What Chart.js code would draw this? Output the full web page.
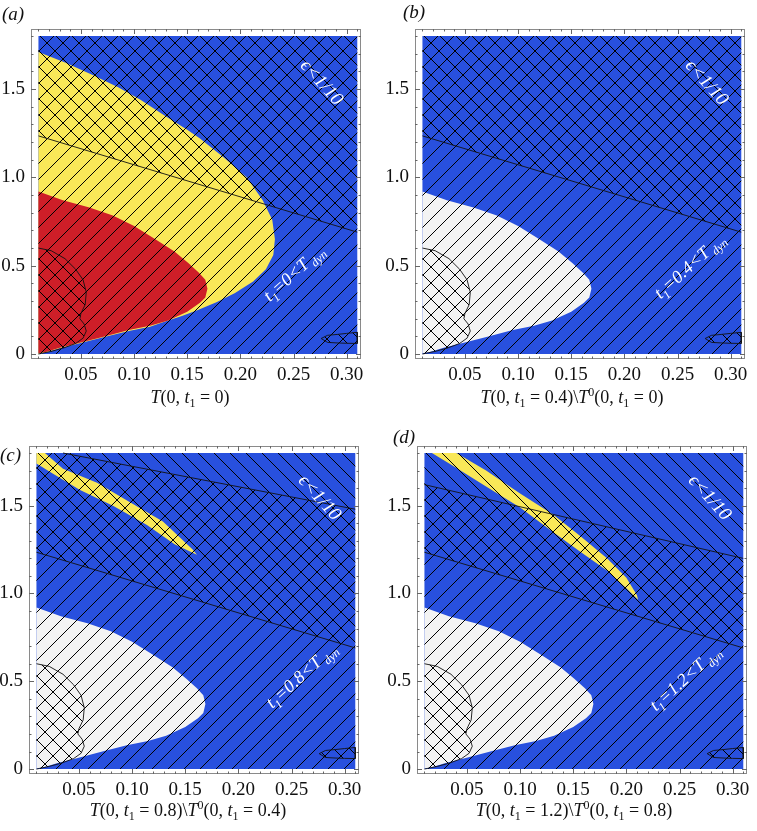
<!DOCTYPE html>
<html>
<head>
<meta charset="utf-8">
<script src="https://cdn.jsdelivr.net/npm/chart.js@4.4.1/dist/chart.umd.min.js"></script>
<style>
  body { margin: 0; background: #fff; width: 757px; height: 831px; position: relative; overflow: hidden; font-family: "Liberation Serif", serif; color: #111; }
  canvas { position: absolute; }
  .tag { position: absolute; font-style: italic; font-size: 19px; line-height: 22px; }
  .xt { position: absolute; width: 320px; text-align: center; white-space: nowrap; font-size: 18px; line-height: 22px; }
  .xt sub { font-size: 12px; vertical-align: -4px; line-height: 0; }
  .xt sup { font-size: 12px; vertical-align: 7px; line-height: 0; }
</style>
</head>
<body>
<canvas id="pa"></canvas>
<canvas id="pb"></canvas>
<canvas id="pc"></canvas>
<canvas id="pd"></canvas>
<script>
// axis ticks
const X_TICKS = [0.05, 0.10, 0.15, 0.20, 0.25, 0.30];
const Y_TICKS = [0, 0.5, 1.0, 1.5];

// plotted domain
const DOMAIN_X = [0.01, 0.31];
const DOMAIN_Y = [0, 1.8];

// outer (yellow) lobe of panel a
const OUTER_X = [0.01, 0.035, 0.061, 0.085, 0.106, 0.13, 0.15, 0.162, 0.185, 0.206, 0.221, 0.23, 0.2325, 0.231, 0.224, 0.212, 0.195, 0.178, 0.16, 0.145, 0.13, 0.115, 0.095, 0.072, 0.048, 0.03, 0.017, 0.01];
const OUTER_Y = [1.71, 1.65, 1.58, 1.51, 1.44, 1.345, 1.27, 1.22, 1.11, 1.0, 0.87, 0.76, 0.65, 0.56, 0.48, 0.41, 0.345, 0.295, 0.25, 0.215, 0.185, 0.155, 0.13, 0.097, 0.06, 0.033, 0.009, 0.0];

// inner lobe (red in a, pale in b-d)
const INNER_X = [0.01, 0.033, 0.058, 0.08, 0.10, 0.12, 0.138, 0.151, 0.161, 0.167, 0.169, 0.167, 0.162, 0.15, 0.132, 0.115, 0.095, 0.072, 0.048, 0.03, 0.017, 0.01];
const INNER_Y = [0.92, 0.87, 0.83, 0.785, 0.725, 0.65, 0.58, 0.515, 0.46, 0.42, 0.37, 0.32, 0.29, 0.24, 0.19, 0.16, 0.136, 0.1, 0.062, 0.035, 0.011, 0.004];

// yellow sliver, panel c
const SLIVER_X = [0.01, 0.018, 0.035, 0.067, 0.098, 0.129, 0.157, 0.161, 0.14, 0.114, 0.082, 0.051, 0.026, 0.01];
const SLIVER_Y = [1.8, 1.8, 1.71, 1.63, 1.52, 1.41, 1.25, 1.22, 1.28, 1.39, 1.50, 1.59, 1.68, 1.74];

// yellow crescent, panel d
const CRESCENT_X = [0.017, 0.04, 0.068, 0.10, 0.131, 0.156, 0.182, 0.20, 0.21, 0.211, 0.20, 0.182, 0.156, 0.131, 0.10, 0.068, 0.036, 0.017];
const CRESCENT_Y = [1.8, 1.8, 1.70, 1.57, 1.45, 1.33, 1.20, 1.09, 0.99, 0.965, 1.03, 1.13, 1.24, 1.35, 1.49, 1.61, 1.73, 1.8];

// small hatched bump at bottom left
const BUMP_X = [0.01, 0.022, 0.035, 0.045, 0.052, 0.055, 0.054, 0.05, 0.049, 0.053, 0.055, 0.052, 0.045, 0.034, 0.022, 0.013, 0.01];
const BUMP_Y = [0.60, 0.585, 0.54, 0.48, 0.42, 0.35, 0.28, 0.23, 0.20, 0.17, 0.13, 0.09, 0.06, 0.035, 0.015, 0.004, 0.0];

// small lens at bottom right
const LENS_X = [0.276, 0.282, 0.291, 0.30, 0.31, 0.31, 0.30, 0.291, 0.282, 0.276];
const LENS_Y = [0.088, 0.106, 0.111, 0.117, 0.123, 0.06, 0.061, 0.063, 0.066, 0.088];

// boundary lines
const EPS_X = [0.01, 0.31];
const EPS_Y = [1.235, 0.69];
const TDYN_C_X = [0.035, 0.31];
const TDYN_C_Y = [1.8, 1.48];
const TDYN_D_X = [0.01, 0.31];
const TDYN_D_Y = [1.62, 1.2];

// texts
const PANEL_TAGS = ["(a)", "(b)", "(c)", "(d)"];
const T1_VALUES = ["0", "0.4", "0.8", "1.2"];
const T0_VALUES = [null, "0", "0.4", "0.8"];
const EPS_POS = [[0.277, 1.54], [0.278, 1.54], [0.277, 1.55], [0.279, 1.55]];
const TDYN_POS = [[0.25, 0.46], [0.261, 0.50], [0.259, 0.535], [0.255, 0.52]];

const BLUE = "rgb(40, 80, 222)";
const YELLOW = "rgb(249, 232, 88)";
const RED = "rgb(206, 30, 40)";
const PALE = "rgb(243, 243, 243)";
const SERIF = "'Liberation Serif', serif";

// frame boxes of the four panels (page pixels)
const FRAMES = [
  { id: "pa", l: 31, t: 29, w: 330, h: 330, tag: [2, 3], title: [190, 386] },
  { id: "pb", l: 415, t: 29, w: 330, h: 330, tag: [403, 1], title: [572, 386] },
  { id: "pc", l: 29, t: 446, w: 330, h: 328, tag: [0, 444], title: [188, 799] },
  { id: "pd", l: 417, t: 446, w: 330, h: 328, tag: [393, 426], title: [574, 799] }
];

const pts = (xs, ys) => xs.map((x, i) => ({ x, y: ys[i] }));

// "/" lines when dir > 0, "\" lines otherwise
function hatch(ctx, dir) {
  const s = 16;
  const tile = document.createElement("canvas");
  tile.width = s;
  tile.height = s;
  const g = tile.getContext("2d");
  g.strokeStyle = "#000";
  g.lineWidth = 1;
  g.beginPath();
  for (const c of [-s, 0, s, 2 * s]) {
    if (dir > 0) { g.moveTo(c - s - 2, s + 2); g.lineTo(c + 2, -2); }
    else { g.moveTo(c - 2, -2); g.lineTo(c + s + 2, s + 2); }
  }
  g.stroke();
  return ctx.createPattern(tile, "repeat");
}

function region(data, color, border) {
  return {
    data, showLine: true, fill: "shape", backgroundColor: color,
    borderColor: border ? "#111" : "transparent", borderWidth: border ? 0.9 : 0,
    pointRadius: 0, tension: 0
  };
}

function outline(data) {
  return { data, showLine: true, fill: false, borderColor: "#111", borderWidth: 0.9, pointRadius: 0, tension: 0 };
}

function drawRuns(ctx, cx, cy, angle, runs, size) {
  const fontOf = r => `italic ${r.sub ? Math.round(size * 0.68) : size}px ${SERIF}`;
  let total = 0;
  for (const r of runs) {
    ctx.font = fontOf(r);
    r.w = ctx.measureText(r.t).width;
    total += r.w;
  }
  ctx.save();
  ctx.translate(cx, cy);
  ctx.rotate(angle);
  ctx.fillStyle = "#fff";
  ctx.textBaseline = "alphabetic";
  let x = -total / 2;
  for (const r of runs) {
    ctx.font = fontOf(r);
    ctx.fillText(r.t, x, size * 0.33 + (r.sub ? size * 0.25 : 0));
    x += r.w;
  }
  ctx.restore();
}

const annotate = {
  id: "annotate",
  afterDatasetsDraw(chart, args, opts) {
    const { ctx, scales: { x, y } } = chart;
    drawRuns(ctx, x.getPixelForValue(opts.eps[0]), y.getPixelForValue(opts.eps[1]), 48 * Math.PI / 180,
      [{ t: "ϵ<1/10" }], 19);
    drawRuns(ctx, x.getPixelForValue(opts.tdyn[0]), y.getPixelForValue(opts.tdyn[1]), -42 * Math.PI / 180,
      [{ t: "t" }, { t: "1", sub: true }, { t: "=" + opts.t1 + "<" }, { t: "T" }, { t: " dyn", sub: true }], 18);
  }
};

const frame = {
  id: "frame",
  afterDraw(chart) {
    const { ctx, chartArea: a, scales: { x, y } } = chart;
    ctx.save();
    ctx.strokeStyle = "#8a8a8a";
    ctx.lineWidth = 1;
    ctx.strokeRect(a.left + 0.5, a.top + 0.5, a.width - 1, a.height - 1);
    ctx.strokeStyle = "#666";
    ctx.beginPath();
    for (let k = 1; k <= 31; k++) {
      const v = k / 100;
      const px = Math.round(x.getPixelForValue(v)) + 0.5;
      const len = k % 5 === 0 ? 5 : 2.5;
      ctx.moveTo(px, a.bottom); ctx.lineTo(px, a.bottom - len);
      ctx.moveTo(px, a.top); ctx.lineTo(px, a.top + len);
    }
    for (let k = 0; k <= 18; k++) {
      const v = k / 10;
      const py = Math.round(y.getPixelForValue(v)) + 0.5;
      const len = k % 5 === 0 ? 5 : 2.5;
      ctx.moveTo(a.left, py); ctx.lineTo(a.left + len, py);
      ctx.moveTo(a.right, py); ctx.lineTo(a.right - len, py);
    }
    ctx.stroke();
    ctx.restore();
  }
};

const rectX = [DOMAIN_X[0], DOMAIN_X[1], DOMAIN_X[1], DOMAIN_X[0]];
const rectY = [DOMAIN_Y[0], DOMAIN_Y[0], DOMAIN_Y[1], DOMAIN_Y[1]];

function slashRegion(i) {
  if (i === 2) return pts([DOMAIN_X[0], DOMAIN_X[1], TDYN_C_X[1], TDYN_C_X[0], DOMAIN_X[0]], [DOMAIN_Y[0], DOMAIN_Y[0], TDYN_C_Y[1], TDYN_C_Y[0], DOMAIN_Y[1]]);
  if (i === 3) return pts([DOMAIN_X[0], DOMAIN_X[1], TDYN_D_X[1], TDYN_D_X[0]], [DOMAIN_Y[0], DOMAIN_Y[0], TDYN_D_Y[1], TDYN_D_Y[0]]);
  return pts(rectX, rectY);
}

FRAMES.forEach((f, i) => {
  const canvas = document.getElementById(f.id);
  canvas.width = f.w + 50;
  canvas.height = f.h + 50;
  canvas.style.left = (f.l - 40) + "px";
  canvas.style.top = (f.t - 10) + "px";
  const ctx = canvas.getContext("2d");
  const slash = hatch(ctx, 1);
  const back = hatch(ctx, -1);

  const sets = [region(pts(rectX, rectY), BLUE)];
  if (i === 0) sets.push(region(pts(OUTER_X, OUTER_Y), YELLOW));
  if (i === 2) sets.push(region(pts(SLIVER_X, SLIVER_Y), YELLOW));
  if (i === 3) sets.push(region(pts(CRESCENT_X, CRESCENT_Y), YELLOW));
  sets.push(region(pts(INNER_X, INNER_Y), i === 0 ? RED : PALE));
  sets.push(region(slashRegion(i), slash));
  sets.push(region(pts([EPS_X[0], EPS_X[1], DOMAIN_X[1], DOMAIN_X[0]], [EPS_Y[0], EPS_Y[1], DOMAIN_Y[1], DOMAIN_Y[1]]), back));
  sets.push(region(pts(BUMP_X, BUMP_Y), back, true));
  sets.push(region(pts(LENS_X, LENS_Y), back, true));
  sets.push(outline(pts(EPS_X, EPS_Y)));
  if (i === 2) sets.push(outline(pts(TDYN_C_X, TDYN_C_Y)));
  if (i === 3) sets.push(outline(pts(TDYN_D_X, TDYN_D_Y)));
  sets.forEach((d, k) => { d.order = 100 - k; });

  new Chart(canvas, {
    type: "scatter",
    data: { datasets: sets },
    options: {
      responsive: false,
      animation: false,
      events: [],
      layout: { padding: { left: 0, top: 10, right: 10, bottom: 0 } },
      plugins: {
        legend: { display: false },
        tooltip: { enabled: false },
        annotate: { eps: EPS_POS[i], tdyn: TDYN_POS[i], t1: T1_VALUES[i] }
      },
      scales: {
        x: {
          type: "linear", min: 0.003, max: 0.3135,
          grid: { display: false, drawTicks: false }, border: { display: false },
          afterBuildTicks: s => { s.ticks = X_TICKS.map(v => ({ value: v })); },
          afterFit: s => { s.height = 40; s.paddingLeft = 0; s.paddingRight = 0; },
          ticks: { autoSkip: false, maxRotation: 0, padding: 5, color: "#111", font: { family: SERIF, size: 19 }, callback: v => v.toFixed(2) }
        },
        y: {
          type: "linear", min: -0.028, max: 1.84,
          grid: { display: false, drawTicks: false }, border: { display: false },
          afterBuildTicks: s => { s.ticks = Y_TICKS.map(v => ({ value: v })); },
          afterFit: s => { s.width = 40; s.paddingTop = 0; s.paddingBottom = 0; },
          ticks: { autoSkip: false, padding: 6, color: "#111", font: { family: SERIF, size: 19 }, callback: v => v === 0 ? "0" : v.toFixed(1) }
        }
      }
    },
    plugins: [annotate, frame]
  });

  const tag = document.createElement("div");
  tag.className = "tag";
  tag.style.left = f.tag[0] + "px";
  tag.style.top = f.tag[1] + "px";
  tag.textContent = PANEL_TAGS[i];
  document.body.appendChild(tag);

  const title = document.createElement("div");
  title.className = "xt";
  title.style.left = (f.title[0] - 160) + "px";
  title.style.top = f.title[1] + "px";
  let html = `<i>T</i>(0, <i>t</i><sub>1</sub> = ${T1_VALUES[i]})`;
  if (T0_VALUES[i] !== null) html += `\\<i>T</i><sup>0</sup>(0, <i>t</i><sub>1</sub> = ${T0_VALUES[i]})`;
  title.innerHTML = html;
  document.body.appendChild(title);
});
</script>
</body>
</html>
